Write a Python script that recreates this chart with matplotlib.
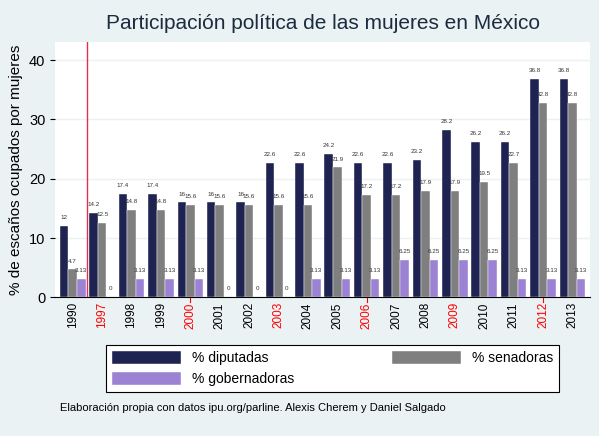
import matplotlib
matplotlib.use("Agg")
import matplotlib.pyplot as plt
import numpy as np

plt.rcParams['font.family'] = ['Liberation Sans', 'DejaVu Sans']

years = ["1990","1997","1998","1999","2000","2001","2002","2003","2004","2005","2006","2007","2008","2009","2010","2011","2012","2013"]
diputadas = [12,14.2,17.4,17.4,16,16,16,22.6,22.6,24.2,22.6,22.6,23.2,28.2,26.2,26.2,36.8,36.8]
senadoras = [4.7,12.5,14.8,14.8,15.6,15.6,15.6,15.6,15.6,21.9,17.2,17.2,17.9,17.9,19.5,22.7,32.8,32.8]
gobernadoras = [3.13,0,3.13,3.13,3.13,0,0,0,3.13,3.13,3.13,6.25,6.25,6.25,6.25,3.13,3.13,3.13]
red_years = ["1997","2000","2003","2006","2009","2012"]
red_ticks = ["2000","2006","2012"]

bg = "#eaf2f3"
fig = plt.figure(figsize=(5.99,4.36), dpi=100, facecolor=bg)
ax = fig.add_axes([0.092, 0.318, 0.893, 0.585])
ax.set_facecolor("white")
x = np.arange(len(years))
w = 0.29
cols = ["#1f2352", "#7f7f7f", "#9b82d3"]
handles = []
for k,(vals,c,lab) in enumerate([(diputadas,cols[0],"% diputadas"),(senadoras,cols[1],"% senadoras"),(gobernadoras,cols[2],"% gobernadoras")]):
    pos = x + (k-1)*w
    h = ax.bar(pos, vals, width=w, color=c, label=lab, edgecolor="white", linewidth=0.3)
    handles.append(h)
    for p,v in zip(pos, vals):
        ax.text(p, v+1.0, f"{v:g}", ha="center", va="bottom", fontsize=4.5, color="#333333")
ax.set_xlim(-0.6, len(years)-0.4)
ax.set_ylim(0, 43)
ax.set_yticks([0,10,20,30,40])
ax.yaxis.grid(True, color=bg, linewidth=1)
ax.set_axisbelow(True)
ax.set_xticks(x)
ax.set_xticklabels(years, rotation=90, fontsize=8.5)
for t in ax.get_xticklabels():
    if t.get_text() in red_years:
        t.set_color("red")
ax.tick_params(axis="x", length=0)
for i,y in enumerate(years):
    if y in red_ticks:
        ax.plot([i,i],[-0.02,0.0],transform=ax.get_xaxis_transform(),color="red",lw=0.8,clip_on=False)
ax.tick_params(axis="y", labelsize=10.5)
ax.axvline(0.5, color="#e0304e", lw=1)
for s in ["top","right","left"]:
    ax.spines[s].set_visible(False)
ax.set_ylabel("% de escaños ocupados por mujeres", fontsize=11)
fig.text(0.54, 0.945, "Participación política de las mujeres en México", ha="center", va="center", fontsize=15, color="#1c2b3f")
leg = fig.legend([handles[0], handles[2], handles[1]], ["% diputadas", "% gobernadoras", "% senadoras"],
                 loc="center", bbox_to_anchor=(0.555, 0.155), ncol=2, fontsize=10, frameon=True,
                 fancybox=False, edgecolor="black", handlelength=5, handleheight=1.1, columnspacing=7,
                 facecolor="white", framealpha=1)
leg.get_frame().set_linewidth(0.8)
fig.text(0.10, 0.057, "Elaboración propia con datos ipu.org/parline. Alexis Cherem y Daniel Salgado", fontsize=8)
fig.savefig("out.png", dpi=100, facecolor=bg)
